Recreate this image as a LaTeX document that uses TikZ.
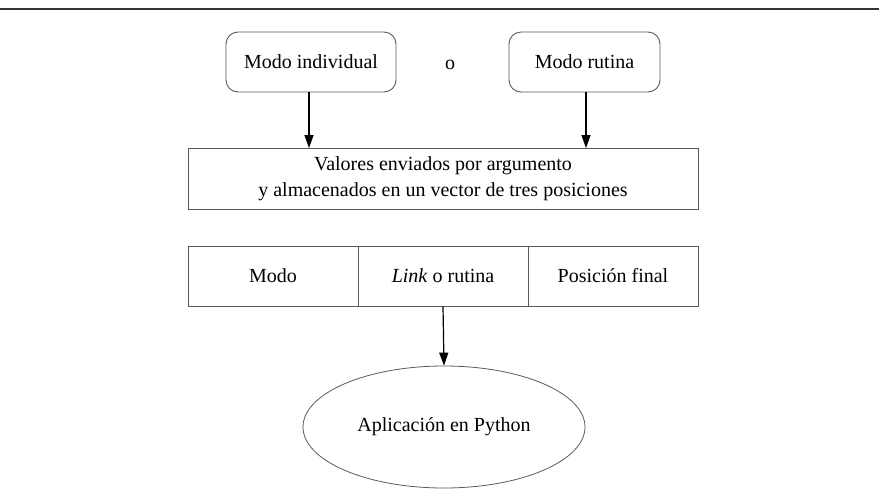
\documentclass[tikz,border=0pt]{standalone}
\usepackage{fontspec}
\setmainfont{Liberation Serif}
\usetikzlibrary{arrows.meta,shapes.geometric}
\begin{document}
\begin{tikzpicture}[x=1pt,y=-1pt,
  every node/.style={font=\fontsize{20}{26}\selectfont, inner sep=0pt, text=black},
  box/.style={draw=black!65, line width=0.9pt, minimum height=60pt},
  rbox/.style={box, rounded corners=12pt},
  arr/.style={draw=black, line width=1.2pt, -{Triangle[length=13pt,width=9pt]}}
]
\useasboundingbox (0,0) rectangle (879,499);
\draw[black!80, line width=1.8pt] (0,9.3) -- (879,9.3);
\node[rbox, minimum width=170pt] (m1) at (311,62) {Modo individual};
\node[rbox, minimum width=151pt] (m2) at (584.5,62) {Modo rutina};
\node (o) at (450,65) {o};
\node[box, minimum width=510pt, minimum height=61pt, align=center] (vals) at (443,179) {Valores enviados por argumento\\y almacenados en un vector de tres posiciones};
\node[box, minimum width=170pt] (c1) at (273,276) {Modo};
\node[box, minimum width=170pt] (c2) at (443,276) {\textit{Link} o rutina};
\node[box, minimum width=170pt] (c3) at (613,276) {Posición final};
\node[ellipse, draw=black!65, line width=0.8pt, minimum width=282pt, minimum height=122pt] (app) at (444,427) {Aplicación en Python};
\draw[arr] ([xshift=-2pt]m1.south) -- ([xshift=-2pt]m1.south |- vals.north);
\draw[arr] ([xshift=1.5pt]m2.south) -- ([xshift=1.5pt]m2.south |- vals.north);
\draw[arr] (c2.south) -- (app.north);
\end{tikzpicture}
\end{document}
